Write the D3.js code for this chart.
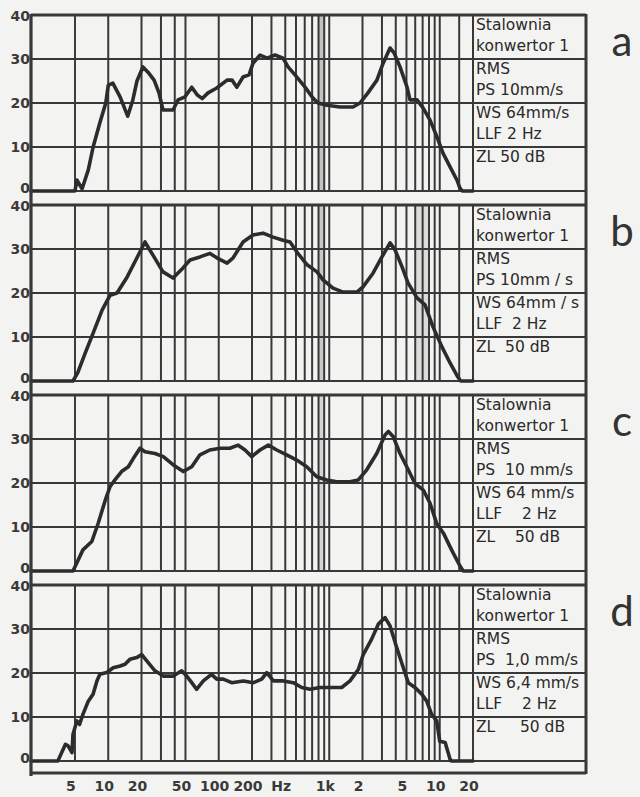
<!DOCTYPE html>
<html>
<head>
<meta charset="utf-8">
<script src="https://cdn.jsdelivr.net/npm/d3@7"></script>
<style>
  body { margin: 0; background: #f3f3f1; }
  svg { display: block; }
  text { white-space: pre; }
</style>
</head>
<body>
<svg width="640" height="797"></svg>
<script>
// panel letters
const panels = ['a', 'b', 'c', 'd'];

// vertical grid lines (Hz)
const gridFreqs = [5, 10, 20, 30, 40, 50, 100, 200, 300, 400, 500, 600, 700, 800, 900,
  1000, 2000, 3000, 4000, 5000, 6000, 7000, 8000, 9000, 10000, 15000];

// bottom axis labels
const tickFreqs = [5, 10, 20, 50, 100, 200, 400, 1000, 2000, 5000, 10000, 20000];
const tickLabels = ['5', '10', '20', '50', '100', '200', 'Hz', '1k', '2', '5', '10', '20'];

// level ticks
const levelTicks = [0, 10, 20, 30, 40];

// spectra [Hz, level]
const curveA = [[2,0],[5,0],[5.2,2.5],[5.8,0.5],[6.6,4.8],[7.3,10],[8.4,15.5],[9.5,20],[10,24],
  [11,24.5],[12.8,21.4],[15,17],[16.7,20.7],[18.2,25],[20.6,28.2],[22.9,27],[26,25.2],[28.8,22.3],
  [31.3,18.4],[34,18.4],[38.6,18.4],[42.8,20.7],[49.5,21.4],[57,23.6],[64,21.8],[71,21],[80,22.3],
  [96,23.4],[119,25.2],[132,25.2],[146,23.6],[166,25.9],[188,26.4],[204,29],[236,30.9],[274,30.2],
  [323,30.9],[382,30.2],[424,28.2],[490,26.4],[604,23.6],[713,21.1],[791,20],[955,19.5],[1250,19.1],
  [1640,19.1],[1900,20],[2240,22.3],[2700,25.2],[3070,29],[3550,32.5],[3860,31.4],[4370,28.2],
  [5060,23.6],[5380,20.7],[6230,20.7],[7060,18.9],[8170,16.1],[9440,12.3],[10700,8.6],[12400,5.5],
  [14300,2.5],[15200,0.7],[16000,0],[20000,0]];

const curveB = [[2,0],[4.8,0],[5.3,1.9],[6.2,6.4],[7.3,10.9],[8.8,16.1],[10.4,19.5],[12,20],
  [14.8,23.6],[18.2,28],[21.5,31.6],[25.4,28.6],[31.3,24.8],[38.6,23.4],[47.5,25.7],[55,27.5],
  [67.6,28.2],[83.4,29],[96,28],[119,26.8],[135,28],[166,31.6],[204,33.2],[252,33.6],[310,32.7],
  [382,32],[442,31.6],[510,29.3],[630,26.4],[775,24.8],[879,23],[1082,21.1],[1333,20.2],[1783,20.2],
  [2020,21.4],[2490,24.5],[3000,28.2],[3550,31.4],[3940,29.8],[4550,26],[5160,22.3],[6230,18.9],
  [7360,17.3],[8690,12.3],[10500,7.7],[12400,4.1],[14600,0.9],[15500,0],[20000,0]];

const curveC = [[2,0],[4.8,0],[5.9,4.8],[7.1,6.7],[8.1,10.8],[9.4,16.1],[10.4,19.2],[11.5,20.7],
  [13.2,22.6],[15.2,23.7],[16.9,25.6],[19.4,27.9],[21.5,27.1],[26.5,26.7],[31.5,26],[38.8,24.1],
  [47.8,22.6],[57,23.7],[67.6,26.4],[83,27.5],[103,27.9],[126,27.9],[150,28.6],[173,27.5],[199,26],
  [236,27.5],[281,28.6],[335,27.5],[412,26.4],[508,25.2],[626,23.7],[771,21.4],[949,20.7],[1169,20.3],
  [1542,20.3],[1832,20.7],[2184,23],[2690,26.7],[3200,30.9],[3430,31.7],[3800,30.5],[4370,26.7],
  [5190,23],[5970,19.9],[7100,18.4],[8170,15.4],[9390,10.8],[10800,8.6],[12800,4.8],[15200,1.2],
  [16300,0],[20000,0]];

const curveD = [[2,0],[3.5,0],[4.1,3.8],[4.35,3.4],[4.7,1.9],[4.8,6.1],[5.2,9.1],[5.5,8.3],
  [5.9,10.6],[6.6,13.6],[7.3,15.2],[7.9,18.2],[8.4,19.7],[9.7,20.1],[11.1,21.2],[12.8,21.6],
  [14.2,22],[15.7,23.1],[18.1,23.5],[20.1,24.2],[23.1,22.3],[26.5,20.5],[31.5,19.3],[38.8,19.3],
  [46.2,20.5],[51.3,19.3],[57,17.8],[63,16.3],[72.5,18.2],[86,19.7],[96,18.6],[110,18.6],[131,17.8],
  [167,18.2],[206,17.8],[245,18.6],[272,20.1],[312,18.2],[384,18.2],[473,17.8],[564,16.7],[670,16.3],
  [824,16.7],[1016,16.7],[1297,16.7],[1542,18.2],[1832,20.8],[2032,24.2],[2420,27.7],[2780,31.1],
  [3200,32.6],[3550,30.7],[4080,25.8],[4680,21.2],[5190,17.8],[5970,16.7],[6870,15.2],[7620,13.6],
  [8450,10.6],[9390,9.1],[10000,4.5],[11200,4.2],[12400,0.4],[12800,0],[20000,0]];

const curves = [curveA, curveB, curveC, curveD];

// shaded strips on the chart paper [Hz from, Hz to]
const bandsA = [[790, 920]];
const bandsB = [[790, 900], [6000, 8000]];
const bandsC = [[800, 900]];
const bandsD = [];
const bands = [bandsA, bandsB, bandsC, bandsD];
const bandShade = [['#c2c2c0'], ['#c8c8c6', '#dcdcda'], ['#d4d4d2'], []];

// legend texts
const legendA = ['Stalownia', 'konwertor 1', 'RMS', 'PS 10mm/s', 'WS 64mm/s', 'LLF 2 Hz', 'ZL 50 dB'];
const legendB = ['Stalownia', 'konwertor 1', 'RMS', 'PS 10mm / s', 'WS 64mm / s', 'LLF  2 Hz', 'ZL  50 dB'];
const legendC = ['Stalownia', 'konwertor 1', 'RMS', 'PS  10 mm/s', 'WS 64 mm/s', 'LLF    2 Hz', 'ZL    50 dB'];
const legendD = ['Stalownia', 'konwertor 1', 'RMS', 'PS  1,0 mm/s', 'WS 6,4 mm/s', 'LLF    2 Hz', 'ZL     50 dB'];
const legends = [legendA, legendB, legendC, legendD];

const svg = d3.select('svg');
const ink = '#383838';

const left = 31;
const right = 586;
const panelH = 176;
const panelStep = 190;

const x = d3.scaleLog().domain([2, 20000]).range([left, 473]);

panels.forEach((name, i) => {
  const top = 15 + i * panelStep;
  const y = d3.scaleLinear().domain([0, 40]).range([top + panelH, top]);
  const g = svg.append('g');

  // shaded strips
  g.selectAll('rect.band')
    .data(bands[i])
    .join('rect')
      .attr('x', d => x(d[0]))
      .attr('width', d => x(d[1]) - x(d[0]))
      .attr('y', y(40))
      .attr('height', y(0) - y(40))
      .attr('fill', (d, j) => bandShade[i][j]);

  // vertical grid
  g.selectAll('line.v')
    .data(gridFreqs.concat([20000]))
    .join('line')
      .attr('x1', d => x(d)).attr('x2', d => x(d))
      .attr('y1', y(40)).attr('y2', y(0))
      .attr('stroke', ink)
      .attr('stroke-width', 2);

  // horizontal grid (through the legend box)
  g.selectAll('line.h')
    .data(levelTicks)
    .join('line')
      .attr('x1', left).attr('x2', right)
      .attr('y1', d => y(d)).attr('y2', d => y(d))
      .attr('stroke', ink)
      .attr('stroke-width', d => d === 40 ? 3 : 2.2);

  // spectrum
  const line = d3.line()
    .x(d => x(d[0]))
    .y(d => y(d[1]));

  g.append('path')
    .attr('d', line(curves[i]))
    .attr('fill', 'none')
    .attr('stroke', '#2c2c2c')
    .attr('stroke-width', 3.6)
    .attr('stroke-linejoin', 'round')
    .attr('stroke-linecap', 'round');

  // level labels
  g.selectAll('text.lv')
    .data(levelTicks)
    .join('text')
      .attr('x', 30)
      .attr('y', d => d === 0 ? y(d) - 3 : d === 40 ? y(d) + 1 : y(d))
      .attr('dy', '0.36em')
      .attr('text-anchor', 'end')
      .attr('font-family', 'DejaVu Sans')
      .attr('font-weight', 'bold')
      .attr('font-size', 14)
      .attr('fill', '#3a3a3a')
      .text(d => d);

  // legend text
  const rowOff = [9, 30, 53, 74, 97, 118, 141];
  g.selectAll('text.lg')
    .data(legends[i])
    .join('text')
      .attr('x', 476)
      .attr('y', (d, j) => top + rowOff[j])
      .attr('dy', '0.36em')
      .attr('font-family', 'DejaVu Sans')
      .attr('font-size', 15.5)
      .attr('fill', '#2a2a2a')
      .text(d => d);

  // panel letter
  g.append('text')
    .attr('x', 622)
    .attr('y', top + 41)
    .attr('text-anchor', 'middle')
    .attr('font-family', 'Lato, DejaVu Sans')
    .attr('font-weight', 400)
    .attr('font-size', 42)
    .attr('fill', '#333')
    .text(name);
});

// outer frame
svg.append('line')
  .attr('x1', left).attr('x2', left).attr('y1', 14).attr('y2', 776)
  .attr('stroke', ink).attr('stroke-width', 3.2);
svg.append('line')
  .attr('x1', right).attr('x2', right).attr('y1', 14).attr('y2', 774)
  .attr('stroke', ink).attr('stroke-width', 3);
svg.append('line')
  .attr('x1', left).attr('x2', right).attr('y1', 773).attr('y2', 773)
  .attr('stroke', ink).attr('stroke-width', 3);

// frequency labels
svg.selectAll('text.fx')
  .data(tickFreqs)
  .join('text')
    .attr('x', d => x(d) - 4)
    .attr('y', 786)
    .attr('dy', '0.36em')
    .attr('text-anchor', 'middle')
    .attr('font-family', 'DejaVu Sans')
    .attr('font-weight', 'bold')
    .attr('font-size', 14)
    .attr('fill', '#3a3a3a')
    .text((d, i) => tickLabels[i]);
</script>
</body>
</html>
